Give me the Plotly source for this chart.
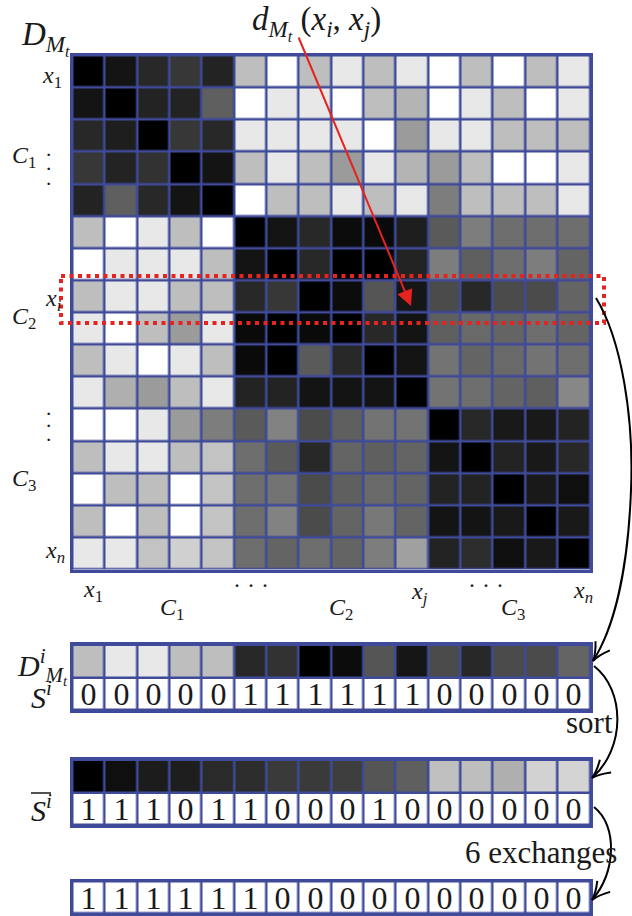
import plotly.graph_objects as go

W, H = 632, 916

# ---------------- data ----------------
matrix_gray = [
    [0, 20, 40, 55, 35, 190, 255, 190, 232, 190, 232, 255, 190, 255, 190, 232],
    [20, 0, 35, 35, 95, 255, 232, 232, 255, 190, 180, 255, 232, 190, 255, 232],
    [40, 30, 0, 55, 40, 232, 232, 232, 232, 255, 155, 232, 232, 190, 190, 190],
    [55, 35, 50, 0, 20, 190, 232, 190, 155, 232, 180, 155, 190, 255, 255, 232],
    [35, 95, 40, 20, 0, 255, 190, 190, 232, 190, 232, 125, 190, 190, 190, 232],
    [190, 255, 232, 190, 255, 0, 20, 40, 12, 10, 30, 90, 125, 110, 110, 110],
    [255, 232, 232, 232, 190, 20, 0, 40, 0, 0, 35, 125, 95, 110, 125, 100],
    [190, 232, 232, 190, 190, 40, 55, 0, 12, 85, 22, 75, 40, 75, 75, 100],
    [232, 255, 190, 155, 232, 10, 0, 10, 0, 40, 20, 95, 105, 100, 110, 100],
    [190, 232, 255, 232, 190, 10, 0, 90, 40, 0, 20, 115, 100, 105, 115, 110],
    [232, 175, 155, 190, 232, 35, 35, 20, 20, 20, 0, 115, 110, 100, 95, 135],
    [255, 255, 232, 155, 125, 90, 130, 75, 95, 115, 115, 0, 40, 25, 25, 35],
    [190, 232, 232, 190, 195, 110, 90, 40, 100, 95, 100, 20, 0, 35, 25, 40],
    [255, 190, 190, 255, 195, 110, 115, 75, 95, 105, 100, 35, 35, 0, 25, 15],
    [190, 255, 190, 255, 195, 110, 130, 75, 100, 120, 100, 20, 20, 25, 0, 25],
    [232, 232, 195, 208, 195, 110, 100, 110, 100, 125, 160, 35, 45, 15, 25, 0],
]
d_row_gray = [190, 232, 232, 190, 190, 40, 50, 0, 12, 85, 22, 75, 40, 75, 75, 100]
s_row = [0, 0, 0, 0, 0, 1, 1, 1, 1, 1, 1, 0, 0, 0, 0, 0]
sorted_gray = [0, 15, 28, 30, 42, 45, 58, 58, 62, 85, 95, 192, 190, 175, 210, 212]
s_bar = [1, 1, 1, 0, 1, 1, 0, 0, 0, 1, 0, 0, 0, 0, 0, 0]
final_row = [1, 1, 1, 1, 1, 1, 0, 0, 0, 0, 0, 0, 0, 0, 0, 0]

n = len(matrix_gray)
BLUE = "#3f4a9a"
RED = "#e5231f"
FONT = "Liberation Serif"
INK = "#1a1a1a"


def px(x):
    return x / W


def py(y):
    return 1 - y / H


gray_scale = [[0, "black"], [1, "white"]]
white = 255
cell_font = dict(family=FONT, size=32, color=INK)

fig = go.Figure()

fig.add_trace(go.Heatmap(z=matrix_gray, x=list(range(n)), y=list(range(n)),
                         colorscale=gray_scale, zmin=0, zmax=255, showscale=False,
                         xgap=2.5, ygap=2.5, hoverinfo="skip", xaxis="x", yaxis="y"))

fig.add_trace(go.Heatmap(z=[d_row_gray, [white] * n], x=list(range(n)), y=[0, 1],
                         text=[[""] * n, [str(v) for v in s_row]], texttemplate="%{text}",
                         textfont=cell_font,
                         colorscale=gray_scale, zmin=0, zmax=255, showscale=False,
                         xgap=2.5, ygap=2.5, hoverinfo="skip", xaxis="x2", yaxis="y2"))

fig.add_trace(go.Heatmap(z=[sorted_gray, [white] * n], x=list(range(n)), y=[0, 1],
                         text=[[""] * n, [str(v) for v in s_bar]], texttemplate="%{text}",
                         textfont=cell_font,
                         colorscale=gray_scale, zmin=0, zmax=255, showscale=False,
                         xgap=2.5, ygap=2.5, hoverinfo="skip", xaxis="x3", yaxis="y3"))

fig.add_trace(go.Heatmap(z=[[white] * n], x=list(range(n)), y=[0],
                         text=[[str(v) for v in final_row]], texttemplate="%{text}",
                         textfont=cell_font,
                         colorscale=gray_scale, zmin=0, zmax=255, showscale=False,
                         xgap=2.5, ygap=2.5, hoverinfo="skip", xaxis="x4", yaxis="y4"))

XL, XR = 72.5, 590
ax_common = dict(showgrid=False, zeroline=False, showticklabels=False, ticks="",
                 showline=True, mirror=True, linecolor=BLUE, linewidth=2.5, fixedrange=True)


def xax(**kw):
    d = dict(ax_common)
    d.update(domain=[px(XL), px(XR)], range=[-0.5, n - 0.5])
    d.update(kw)
    return d


def yax(top, bottom, rows, **kw):
    d = dict(ax_common)
    d.update(domain=[py(bottom), py(top)], range=[rows - 0.5, -0.5])
    d.update(kw)
    return d


fig.update_layout(
    width=W, height=H, margin=dict(l=0, r=0, t=0, b=0),
    paper_bgcolor="white", plot_bgcolor=BLUE, showlegend=False,
    xaxis=xax(anchor="y"), yaxis=yax(55.5, 569.5, n, anchor="x"),
    xaxis2=xax(anchor="y2"), yaxis2=yax(645, 710, 2, anchor="x2"),
    xaxis3=xax(anchor="y3"), yaxis3=yax(760, 825, 2, anchor="x3"),
    xaxis4=xax(anchor="y4"), yaxis4=yax(881.5, 913, 1, anchor="x4"),
)

ann = []


def label(text, x, y, size=24, xanchor="center"):
    ann.append(dict(text=text, x=px(x), y=py(y), xref="paper", yref="paper",
                    xanchor=xanchor, yanchor="middle", showarrow=False,
                    font=dict(family=FONT, size=size, color=INK)))


def sub(base, s):
    return f"<i>{base}</i><sub>{s}</sub>"


Mt = "<i>M</i><sub><i>t</i></sub>"
label(f"<i>D</i><sub>{Mt}</sub>", 19, 38, size=33, xanchor="left")
label(f"<i>d</i><sub>{Mt}</sub> (<i>x</i><sub><i>i</i></sub>, <i>x</i><sub><i>j</i></sub>)",
      250, 23, size=33, xanchor="left")

# left labels
label(sub("x", "1"), 64, 77, xanchor="right")
label(sub("C", "1"), 10, 157, xanchor="left")
for yy in (155, 169, 183):
    label("·", 48, yy, size=22)
label(sub("x", "<i>i</i>"), 64, 300, xanchor="right")
label(sub("C", "2"), 10, 318, xanchor="left")
for yy in (413, 426, 439):
    label("·", 48, yy, size=22)
label(sub("C", "3"), 10, 480, xanchor="left")
label(sub("x", "<i>n</i>"), 67, 552, xanchor="right")

# bottom labels
label(sub("x", "1"), 93, 591)
label(sub("C", "1"), 172, 609)
label("· · ·", 251, 585)
label(sub("C", "2"), 341, 609)
label(sub("x", "<i>j</i>"), 419, 593)
label("· · ·", 486, 585)
label(sub("C", "3"), 513, 609)
label(sub("x", "<i>n</i>"), 583, 592)

# bar labels
label(f"<i>D</i><sup><i>i</i></sup><sub>{Mt}</sub>", 15, 666, size=30, xanchor="left")
label("<i>S</i><sup><i>i</i></sup>", 29, 695, size=30, xanchor="left")
label("<i>S</i><sup><i>i</i></sup>", 29, 808, size=30, xanchor="left")
label("sort", 589, 722, size=31)
label("6 exchanges", 541, 852, size=31)

# red arrow to d(x_i, x_j)
ann.append(dict(x=px(411), y=py(306), xref="paper", yref="paper", text="",
                showarrow=True, ax=-113, ay=-270, arrowcolor=RED, arrowwidth=2,
                arrowhead=2, arrowsize=1.6, standoff=0))
fig.update_layout(annotations=ann)

shapes = []
shapes.append(dict(type="rect", xref="paper", yref="paper",
                   x0=px(61), x1=px(604), y0=py(276), y1=py(323),
                   line=dict(color=RED, width=4, dash="4px,4.5px"), layer="above"))
# overline on S
shapes.append(dict(type="line", xref="paper", yref="paper",
                   x0=px(31), x1=px(51), y0=py(793), y1=py(793),
                   line=dict(color=INK, width=1.5)))


def curve_arrow(points):
    s = points[0]
    d = f"M {px(s[0])},{py(s[1])}"
    for c1, c2, e in points[1:]:
        d += f" C {px(c1[0])},{py(c1[1])} {px(c2[0])},{py(c2[1])} {px(e[0])},{py(e[1])}"
    shapes.append(dict(type="path", xref="paper", yref="paper", path=d,
                       line=dict(color="black", width=2)))
    c2, e = points[-1][1], points[-1][2]
    dx, dy = e[0] - c2[0], e[1] - c2[1]
    L = (dx * dx + dy * dy) ** 0.5
    ux, uy = dx / L, dy / L
    nx, ny = -uy, ux
    hl, hw = 18, 8.5
    hp = ""
    for sgn in (1, -1):
        bx = e[0] - hl * ux + sgn * hw * nx
        by = e[1] - hl * uy + sgn * hw * ny
        cx = e[0] - 0.45 * hl * ux + sgn * 0.2 * hw * nx
        cy = e[1] - 0.45 * hl * uy + sgn * 0.2 * hw * ny
        hp += f"M {px(bx)},{py(by)} Q {px(cx)},{py(cy)} {px(e[0])},{py(e[1])} "
    shapes.append(dict(type="path", xref="paper", yref="paper", path=hp,
                       line=dict(color="black", width=2)))


curve_arrow([(596, 298), ((622, 340), (634, 420), (631, 490)),
             ((628, 570), (614, 628), (593, 661))])
curve_arrow([(594, 666), ((625, 690), (626, 748), (592, 778))])
curve_arrow([(594, 807), ((618, 826), (616, 872), (592, 900))])

fig.update_layout(shapes=shapes)
fig.write_html("out.html", config={"displayModeBar": False},
               post_script="document.body.style.margin='0';document.body.style.overflow='hidden';")
